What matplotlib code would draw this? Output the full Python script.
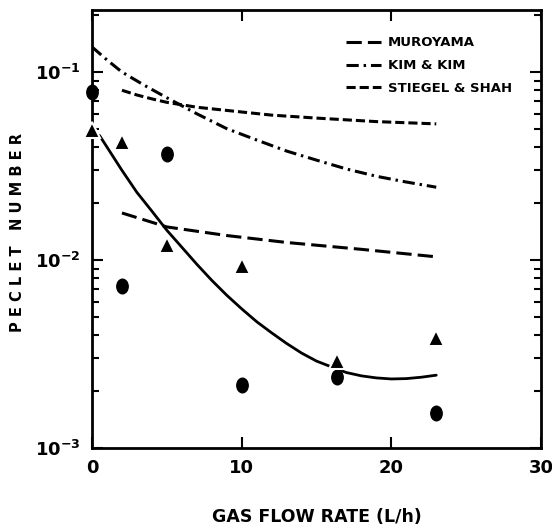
import matplotlib
matplotlib.use("Agg")
import matplotlib.pyplot as plt
import matplotlib.font_manager as fm
from matplotlib.path import Path
from matplotlib.transforms import Affine2D
from matplotlib.ticker import LogLocator, NullFormatter, FixedLocator

# Pick a narrow bold face if one is installed
narrow_file = None
for key in ('SansNarrow-Bold', 'SansCondensed-Bold', 'Condensed-Bold', 'Narrow-Bold', 'CondensedBold'):
    hits = sorted(f.fname for f in fm.fontManager.ttflist if key in f.fname and 'Italic' not in f.fname
                  and 'Oblique' not in f.fname)
    if hits:
        narrow_file = hits[0]
        break
if narrow_file:
    fm.fontManager.addfont(narrow_file)
    narrow_name = fm.FontProperties(fname=narrow_file).get_name()
else:
    narrow_name = 'DejaVu Sans'

plt.rcParams['font.family'] = [narrow_name, 'DejaVu Sans']
plt.rcParams['font.weight'] = 'bold'
plt.rcParams['mathtext.fontset'] = 'custom'
plt.rcParams['mathtext.rm'] = narrow_name + ':bold'
plt.rcParams['mathtext.bf'] = narrow_name + ':bold'
plt.rcParams['mathtext.it'] = narrow_name + ':bold'

# Measured Peclet numbers
flow_circle = [0, 2, 5, 10, 16.4, 23]
pe_circle = [0.078, 0.0073, 0.0367, 0.00216, 0.00239, 0.00153]
flow_tri = [0, 2, 5, 10, 16.4, 23]
pe_tri = [0.0491, 0.0427, 0.0120, 0.00929, 0.0029, 0.00387]

# Fitted curve
flow_fit = [0.5, 2, 3, 4, 5, 6, 7, 8, 9, 10, 11, 12, 13, 14, 15, 16, 17, 18, 19, 20, 21, 22, 23]
pe_fit = [0.046, 0.030, 0.0229, 0.0182, 0.0144, 0.0117, 0.0095, 0.0078, 0.0065, 0.0055,
          0.0047, 0.0041, 0.0036, 0.0032, 0.0029, 0.0027, 0.00252, 0.00242, 0.00236,
          0.00233, 0.00234, 0.00238, 0.00244]

# Correlations
flow_muro = [2, 5, 9, 13, 18, 23]
pe_muro = [0.0178, 0.0150, 0.0135, 0.0124, 0.0114, 0.0104]
flow_kim = [0, 1, 2, 3.5, 5, 7, 9, 11, 13, 15, 17, 19, 21, 23]
pe_kim = [0.136, 0.116, 0.100, 0.085, 0.073, 0.060, 0.050, 0.0435, 0.038, 0.034,
          0.0305, 0.0279, 0.026, 0.0244]
flow_stiegel = [2, 3, 4, 5, 7, 9, 12, 15, 19, 23]
pe_stiegel = [0.080, 0.0755, 0.072, 0.069, 0.065, 0.0625, 0.059, 0.0569, 0.0545, 0.053]

x_ticks = [0, 10, 20, 30]

fig = plt.figure(figsize=(5.52, 5.30), dpi=100)
ax = fig.add_axes([0.1667, 0.1547, 0.8134, 0.8264])

lw = 2.2
l_muro, = ax.plot(flow_muro, pe_muro, color='black', lw=lw, dashes=(5, 2), label='MUROYAMA')
l_kim, = ax.plot(flow_kim, pe_kim, color='black', lw=lw, dashes=(4, 1.6, 0.8, 1.6), label='KIM & KIM')
l_st, = ax.plot(flow_stiegel, pe_stiegel, color='black', lw=lw, dashes=(3, 1.3), label='STIEGEL & SHAH')
ax.plot(flow_fit, pe_fit, color='black', lw=2.0, solid_capstyle='round')

ellipse = Path.unit_circle().transformed(Affine2D().scale(0.78, 1.0))
ax.plot(flow_circle, pe_circle, linestyle='none', marker=ellipse, markersize=10.5,
        color='black', clip_on=False, zorder=4)
ax.plot(flow_tri, pe_tri, linestyle='none', marker='^', markersize=12,
        markerfacecolor='black', markeredgecolor='white', markeredgewidth=1.5,
        clip_on=False, zorder=5)

ax.set_xlim(0, 30)
ax.set_ylim(1e-3, 0.2138)
ax.set_yscale('log')

ax.xaxis.set_major_locator(FixedLocator(x_ticks))
ax.set_xticklabels([str(t) for t in x_ticks])
ax.yaxis.set_major_locator(FixedLocator([1e-3, 1e-2, 1e-1]))
ax.set_yticklabels([r'$10^{-3}$', r'$10^{-2}$', r'$10^{-1}$'])
ax.yaxis.set_minor_locator(LogLocator(base=10, subs=range(2, 10)))
ax.yaxis.set_minor_formatter(NullFormatter())

ax.tick_params(axis='both', which='major', direction='in', length=8, width=1.5,
               top=True, right=True, labelsize=13, pad=8)
ax.tick_params(axis='y', which='minor', direction='in', length=5, width=1.5,
               left=True, right=True)
for s in ax.spines.values():
    s.set_linewidth(2)

ax.set_xlabel('GAS FLOW RATE (L/h)', fontsize=12.5, fontweight='bold', labelpad=22)
fig.text(18 / 552, 1 - 232 / 530, 'P E C L E T   N U M B E R', rotation=90,
         fontsize=10.5, fontweight='bold', family='DejaVu Sans', ha='center', va='center')

leg = ax.legend(handles=[l_muro, l_kim, l_st], loc='upper left',
                bbox_to_anchor=(0.55, 0.955), frameon=False, handlelength=2.7,
                handletextpad=0.5, labelspacing=0.75, borderpad=0,
                prop={'size': 9.5, 'weight': 'bold'})

fig.savefig('out.png', dpi=100)
